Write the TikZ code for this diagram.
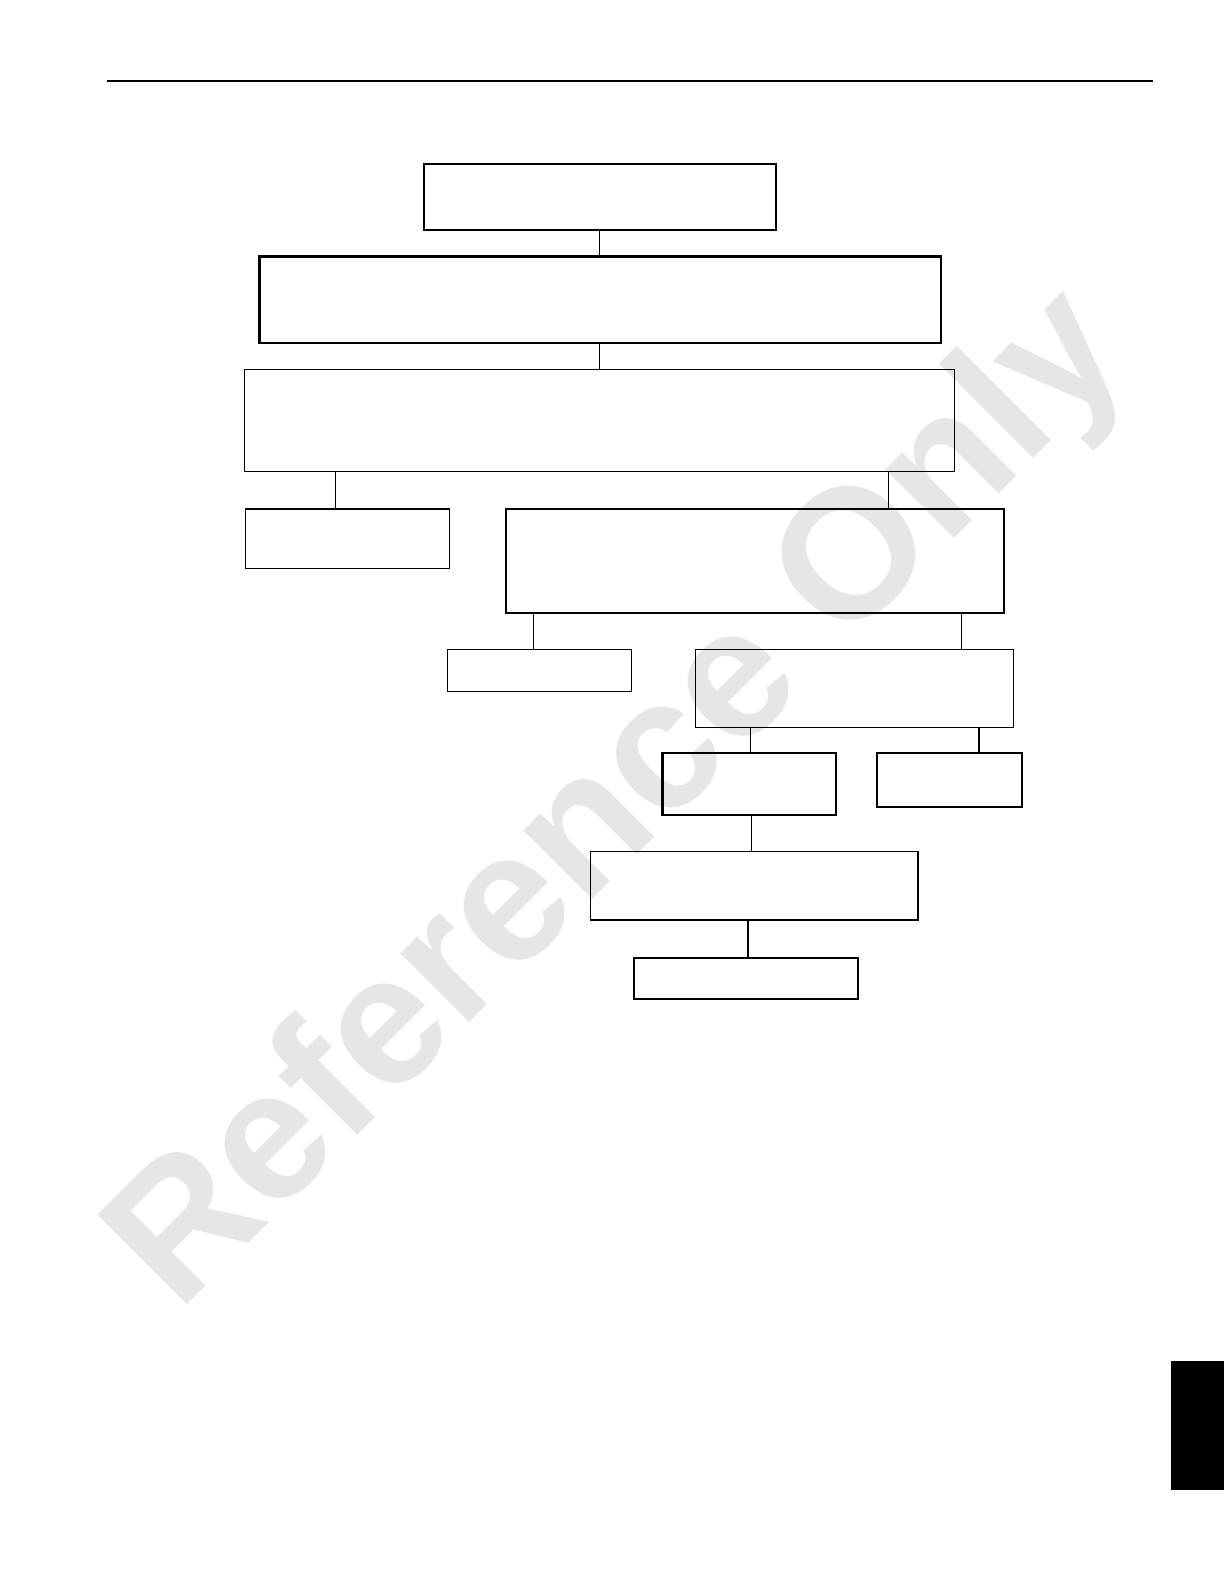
\documentclass[tikz,border=0pt]{standalone}
\usepackage{fontspec}
\setmainfont{Liberation Sans}
\usetikzlibrary{fit,calc}
\definecolor{wmgray}{RGB}{230,230,230}
\begin{document}
\begin{tikzpicture}[x=1.0099pt,y=-1.0099pt,
  thinbox/.style={draw,line width=1.1pt,inner sep=0pt},
  thickbox/.style={draw,line width=2.1pt,inner sep=0pt},
  link/.style={line width=1.1pt},
  thicklink/.style={line width=2.2pt}]
\useasboundingbox (0,0) rectangle (1212,1568.5);
% watermark
\node[text=wmgray, rotate=45, anchor=base west, inner sep=0pt,
  font=\fontsize{184pt}{184pt}\selectfont\bfseries] (wmark) at (177,1301) {Reference Only};
% header rule and tab
\coordinate (hl) at (106,80.2);
\coordinate (hr) at (1141.7,80.2);
\draw[line width=2pt] (hl) -- (hr);
\fill[black] (1159.5,1347.6) rectangle (1212,1475.5);
% boxes
\node[thickbox, fit={(420,162)(768,228)}] (b1) {};
\node[thickbox, fit={(257,254)(932,340)}] (b2) {};
\node[thinbox,  fit={(242,366)(945,467)}] (b3) {};
\node[thinbox,  fit={(243,504)(445,563)}] (b4) {};
\node[thickbox, fit={(501,504)(994,607)}] (b5) {};
\node[thinbox,  fit={(443,643)(625,685)}] (b6) {};
\node[thinbox,  fit={(689,643)(1004,720)}] (b7) {};
\node[thickbox, fit={(656,746)(828,807)}] (b8) {};
\node[thickbox, fit={(868,746)(1012,799)}] (b9) {};
\node[thinbox,  fit={(585,843)(909,911)}] (b10) {};
\node[thickbox, fit={(628,949)(850,989)}] (b11) {};
% connector feet
\coordinate (c4) at ($(b4.north west)!0.44!(b4.north east)$);
\coordinate (c5) at ($(b5.north west)!0.767!(b5.north east)$);
\coordinate (c6) at ($(b6.north west)!0.467!(b6.north east)$);
\coordinate (c7) at ($(b7.north west)!0.835!(b7.north east)$);
\coordinate (c8) at ($(b8.north west)!0.506!(b8.north east)$);
\coordinate (c9) at ($(b9.north west)!0.701!(b9.north east)$);
\coordinate (c10) at ($(b10.north west)!0.49!(b10.north east)$);
\coordinate (c11) at ($(b11.north west)!0.509!(b11.north east)$);
% connectors
\draw[link] (b1.south) -- (b1.south |- b2.north);
\draw[link] (b1.south |- b2.south) -- (b1.south |- b3.north);
\draw[link] (c4) -- (c4 |- b3.south);
\draw[link] (c5) -- (c5 |- b3.south);
\draw[link] (c6) -- (c6 |- b5.south);
\draw[link] (c7) -- (c7 |- b5.south);
\draw[link] (c8) -- (c8 |- b7.south);
\draw[thicklink] (c9) -- (c9 |- b7.south);
\draw[link] (c10) -- (c10 |- b8.south);
\draw[thicklink] (c11) -- (c11 |- b10.south);
\end{tikzpicture}
\end{document}
